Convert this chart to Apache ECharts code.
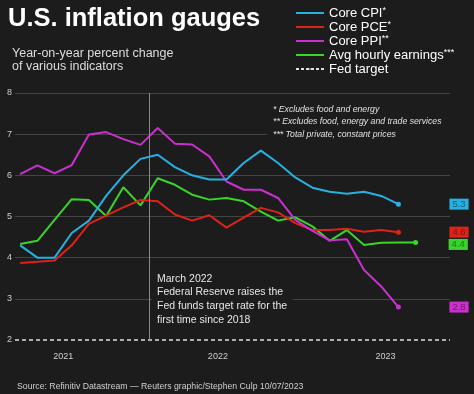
<!DOCTYPE html>
<html>
<head>
<meta charset="utf-8">
<script src="https://cdn.jsdelivr.net/npm/echarts@6/dist/echarts.min.js"></script>
<style>
html,body{margin:0;padding:0;background:#1c1c1c;}
#chart{width:474px;height:394px;}
</style>
</head>
<body>
<div id="chart"></div>
<script>
// ---- data (monthly, year-on-year %) ----
const months = ['2021-07','2021-08','2021-09','2021-10','2021-11','2021-12',
  '2022-01','2022-02','2022-03','2022-04','2022-05','2022-06','2022-07','2022-08',
  '2022-09','2022-10','2022-11','2022-12','2023-01','2023-02','2023-03','2023-04',
  '2023-05','2023-06'];
const coreCPI = [4.3,4.0,4.0,4.6,4.9,5.5,6.0,6.4,6.5,6.2,6.0,5.9,5.9,6.3,6.6,6.3,5.95,5.7,5.6,5.55,5.6,5.5,5.3];
const corePCE = [3.87,3.9,3.93,4.3,4.82,5.02,5.22,5.4,5.37,5.05,4.9,5.03,4.73,4.97,5.21,5.1,4.84,4.67,4.67,4.7,4.63,4.67,4.62];
const corePPI = [6.03,6.24,6.05,6.25,6.99,7.05,6.88,6.74,7.15,6.77,6.75,6.46,5.85,5.65,5.65,5.45,4.92,4.65,4.42,4.45,3.7,3.3,2.8];
const avgHourlyEarnings = [4.33,4.41,4.92,5.42,5.4,5.01,5.71,5.27,5.93,5.77,5.53,5.41,5.45,5.37,5.12,4.9,4.98,4.76,4.41,4.67,4.31,4.36,4.37,4.37];
const fedTarget = 2;
const yTickMin = 2, yTickMax = 8, yTickStep = 1;
const yearLabels = ['2021','2022','2023'];
const hikeMonth = '2022-03';
const annotation = ['March 2022','Federal Reserve raises the','Fed funds target rate for the','first time since 2018'];
const notes = ['* Excludes food and energy','** Excludes food, energy and trade services','*** Total private, constant prices'];

// ---- derived ----
const xMin = -0.3, xMax = 25;
const toPts = a => a.map((v,i)=>[i,v]);
// year label positions: centre of each year's visible span
const yearPos = yearLabels.map(y=>{
  const idx = months.map((m,i)=>m.startsWith(y)?i:-1).filter(i=>i>=0);
  const s = idx[0]-0.5;
  const e = (y===yearLabels[yearLabels.length-1]) ? xMax : idx[idx.length-1]+0.5;
  return (s+e)/2;
});
const hikeX = months.indexOf(hikeMonth)-0.5;
const BG = '#1c1c1c';
const FONT = '"Liberation Sans", Arial, Helvetica, sans-serif';

function lineSeries(name, arr, color, dist, off){
  const last = arr.length-1;
  return {
    name, type:'line', data: toPts(arr), symbol:'none', z: 3,
    lineStyle:{color, width:2}, itemStyle:{color},
    endLabel:{show:true, distance:dist, offset:off||[0,0],
      formatter: ()=>arr[last].toFixed(1),
      backgroundColor: color, color:'rgba(20,20,20,0.55)', fontSize:9.5, fontFamily:FONT,
      padding:[1,3,0,3]},
    markPoint:{silent:true, symbol:'circle', symbolSize:5, itemStyle:{color},
      label:{show:false}, data:[{coord:[last, arr[last]]}]},
    labelLayout:{hideOverlap:false}
  };
}

const chart = echarts.init(document.getElementById('chart'), null, {renderer:'canvas'});
chart.setOption({
  backgroundColor: BG,
  animation: false,
  textStyle:{fontFamily:FONT},
  grid:{left:15, right:24, top:93, bottom:54, outerBoundsMode:'none'},
  legend:{
    orient:'vertical', left:295, top:6, padding:0, itemGap:0,
    itemWidth:28, itemHeight:2,
    lineStyle:{width:2},
    formatter: name=>{
      const m = name.match(/^(.*?)(\*+)$/);
      return m ? '{t|'+m[1]+'}{s|'+m[2]+'}' : '{t|'+name+'}';
    },
    textStyle:{color:'#ffffff', fontSize:13, lineHeight:14, fontFamily:FONT,
      rich:{
        t:{color:'#ffffff', fontSize:13, lineHeight:14, fontFamily:FONT},
        s:{color:'#ffffff', fontSize:9, lineHeight:14, fontFamily:FONT, verticalAlign:'top', padding:[0,0,3,0]}
      }},
    data:['Core CPI*','Core PCE*','Core PPI**','Avg hourly earnings***','Fed target']
  },
  xAxis:{
    type:'value', min:xMin, max:xMax,
    axisLine:{show:false}, axisTick:{show:false}, splitLine:{show:false},
    axisLabel:{customValues: yearPos, color:'#cfcfcf', fontSize:9, margin:12,
      formatter: v=>{ const i = yearPos.findIndex(p=>Math.abs(p-v)<1e-6); return i>=0?yearLabels[i]:''; }}
  },
  yAxis:{
    type:'value', min:yTickMin, max:yTickMax, interval:yTickStep,
    axisLine:{show:false}, axisTick:{show:false},
    splitLine:{show:true, showMinLine:false, lineStyle:{color:'#444', width:1}},
    axisLabel:{color:'#cfcfcf', fontSize:9, margin:3}
  },
  series:[
    lineSeries('Avg hourly earnings***', avgHourlyEarnings, '#38d62a', 33, [0,2]),
    lineSeries('Core PCE*', corePCE, '#de2218', 51),
    lineSeries('Core PPI**', corePPI, '#cc2fd0', 51),
    lineSeries('Core CPI*', coreCPI, '#27b0e2', 51),
    {
      name:'Fed target', type:'line', data:[], symbol:'none',
      lineStyle:{color:'#e0e0e0', width:1.5, type:[3,2]}, itemStyle:{color:'#e0e0e0'},
      markLine:{silent:true, symbol:'none', label:{show:false},
        data:[
          {yAxis:fedTarget, lineStyle:{color:'#e0e0e0', width:1.5, type:[4,3]}},
          {xAxis:hikeX, lineStyle:{color:'#8a8a8a', width:1, type:'solid'}}
        ]}
    }
  ],
  graphic:[
    {type:'text', left:8, top:6, style:{text:'U.S. inflation gauges', fill:'#ffffff',
      font:'bold 25.5px '+FONT}},
    {type:'text', left:12, top:47, style:{text:'Year-on-year percent change\nof various indicators',
      fill:'#dddddd', font:'12.5px '+FONT, lineHeight:13}},
    {type:'rect', z:1, shape:{x:267, y:101, width:183, height:40}, style:{fill:BG}},
    {type:'text', z:5, left:273, top:103, style:{text:notes.join('\n'), fill:'#e0e0e0',
      font:'italic 8.7px '+FONT, lineHeight:12.5}},
    {type:'rect', z:1, shape:{x:152, y:268, width:141, height:60}, style:{fill:BG}},
    {type:'text', z:5, left:157, top:272, style:{text:annotation.join('\n'), fill:'#e6e6e6',
      font:'10.5px '+FONT, lineHeight:13.7}},
    {type:'text', left:17, top:382.5, style:{text:'Source: Refinitiv Datastream \u2014 Reuters graphic/Stephen Culp 10/07/2023',
      fill:'#cfcfcf', font:'8.7px '+FONT}}
  ]
});
</script>
</body>
</html>
